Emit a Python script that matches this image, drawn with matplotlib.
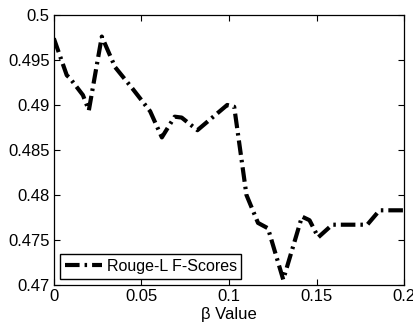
import matplotlib
matplotlib.use('Agg')
import matplotlib.pyplot as plt

plt.rcParams['font.family'] = ['Liberation Sans', 'DejaVu Sans']

# valeurs
beta = [0.0, 0.0074, 0.0091, 0.0166, 0.020, 0.0274, 0.035, 0.045, 0.055,
        0.0617, 0.069, 0.073, 0.082, 0.099, 0.103, 0.106, 0.110, 0.1166,
        0.1223, 0.131, 0.1417, 0.146, 0.151, 0.159, 0.179, 0.186, 0.2]
rouge_l = [0.4974, 0.4933, 0.4930, 0.4911, 0.4894, 0.4976, 0.4942, 0.4918,
           0.4893, 0.4864, 0.4887, 0.4886, 0.4872, 0.4900, 0.4898, 0.4856,
           0.4800, 0.4769, 0.4763, 0.4706, 0.4776, 0.4772, 0.4753, 0.4767,
           0.4767, 0.4783, 0.4783]
x_ticks = [0, 0.05, 0.1, 0.15, 0.2]
x_labels = ['0', '0.05', '0.1', '0.15', '0.2']
y_ticks = [0.47, 0.475, 0.48, 0.485, 0.49, 0.495, 0.5]
y_labels = ['0.47', '0.475', '0.48', '0.485', '0.49', '0.495', '0.5']

fig = plt.figure(figsize=(4.14, 3.25), dpi=100)
ax = fig.add_axes([0.130, 0.123, 0.846, 0.831])

ax.plot(beta, rouge_l, color='black', linewidth=3.0,
        dashes=(3.5, 1.2, 0.6, 1.2), label='Rouge-L F-Scores')

ax.set_xlim(0, 0.2)
ax.set_ylim(0.47, 0.5)
ax.set_xticks(x_ticks)
ax.set_xticklabels(x_labels)
ax.set_yticks(y_ticks)
ax.set_yticklabels(y_labels)
ax.tick_params(direction='in', top=True, right=True, labelsize=12,
               length=4, width=0.8, pad=3)
for s in ax.spines.values():
    s.set_linewidth(0.9)
ax.set_xlabel('\u03b2 Value', fontsize=12, labelpad=2)

ax.legend(loc='lower left', fontsize=11.5, handlelength=2.3, fancybox=False,
          edgecolor='black', framealpha=1, borderpad=0.3, handletextpad=0.3,
          borderaxespad=0.4)

fig.savefig('out.png', dpi=100)
